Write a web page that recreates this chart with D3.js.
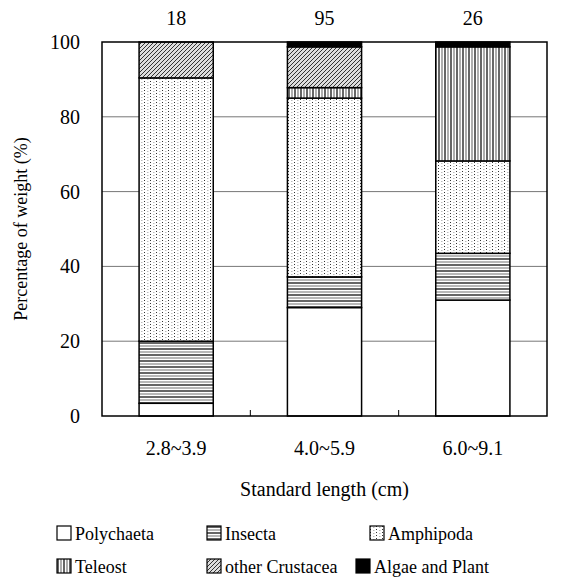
<!DOCTYPE html>
<html>
<head>
<meta charset="utf-8">
<script src="https://cdn.jsdelivr.net/npm/d3@7"></script>
<style>
  body { margin: 0; background: #fff; }
</style>
</head>
<body>
<div id="chart"></div>
<script>
// data
const groups = ["2.8~3.9", "4.0~5.9", "6.0~9.1"];
const sampleSize = [18, 95, 26];
const prey = ["Polychaeta", "Insecta", "Amphipoda", "Teleost", "other Crustacea", "Algae and Plant"];
const polychaeta = [3.4, 29.0, 31.0];
const insecta = [16.6, 8.2, 12.5];
const amphipoda = [70.4, 47.8, 24.7];
const teleost = [0, 2.8, 30.5];
const otherCrustacea = [9.6, 10.9, 0];
const algae = [0, 1.3, 1.3];
const yTicks = [0, 20, 40, 60, 80, 100];

const series = [polychaeta, insecta, amphipoda, teleost, otherCrustacea, algae];
const table = groups.map((g, i) => {
  let row = {group: g};
  prey.forEach((p, j) => row[p] = series[j][i]);
  return row;
});

const width = 562, height = 578;
const margin = {top: 42, right: 15, bottom: 162, left: 102};
const iw = width - margin.left - margin.right;
const ih = height - margin.top - margin.bottom;
const fs = 20;
const ff = "'Liberation Serif', 'Times New Roman', Times, serif";

const svg = d3.select("#chart").append("svg")
  .attr("width", width)
  .attr("height", height)
  .attr("font-family", ff)
  .attr("font-size", fs);

// patterns
const defs = svg.append("defs");

let pInsecta = defs.append("pattern").attr("id", "p1")
  .attr("patternUnits", "userSpaceOnUse").attr("width", 8).attr("height", 6);
pInsecta.append("rect").attr("width", 8).attr("height", 6).attr("fill", "#fff");
pInsecta.append("line").attr("x1", 0).attr("x2", 8).attr("y1", 1).attr("y2", 1)
  .attr("stroke", "#000").attr("stroke-width", 1.2);
pInsecta.append("line").attr("x1", 0).attr("x2", 8).attr("y1", 4).attr("y2", 4)
  .attr("stroke", "#888").attr("stroke-width", 1.2);

let pAmph = defs.append("pattern").attr("id", "p2")
  .attr("patternUnits", "userSpaceOnUse").attr("width", 6).attr("height", 6);
pAmph.append("rect").attr("width", 6).attr("height", 6).attr("fill", "#fff");
pAmph.append("rect").attr("x", 0).attr("y", 0).attr("width", 1).attr("height", 1).attr("fill", "#333");
pAmph.append("rect").attr("x", 0).attr("y", 3).attr("width", 1).attr("height", 1).attr("fill", "#333");
pAmph.append("rect").attr("x", 3).attr("y", 1).attr("width", 1).attr("height", 1).attr("fill", "#bbb");
pAmph.append("rect").attr("x", 3).attr("y", 4).attr("width", 1).attr("height", 1).attr("fill", "#bbb");
pAmph.append("rect").attr("x", 4).attr("y", 1).attr("width", 1).attr("height", 1).attr("fill", "#ddd");
pAmph.append("rect").attr("x", 4).attr("y", 4).attr("width", 1).attr("height", 1).attr("fill", "#ddd");

let pTel = defs.append("pattern").attr("id", "p3")
  .attr("patternUnits", "userSpaceOnUse").attr("width", 6).attr("height", 8);
pTel.append("rect").attr("width", 6).attr("height", 8).attr("fill", "#fff");
pTel.append("line").attr("y1", 0).attr("y2", 8).attr("x1", 1).attr("x2", 1)
  .attr("stroke", "#000").attr("stroke-width", 1.2);
pTel.append("line").attr("y1", 0).attr("y2", 8).attr("x1", 4).attr("x2", 4)
  .attr("stroke", "#777").attr("stroke-width", 1.2);

let pCru = defs.append("pattern").attr("id", "p4")
  .attr("patternUnits", "userSpaceOnUse").attr("width", 4).attr("height", 4);
pCru.append("rect").attr("width", 4).attr("height", 4).attr("fill", "#ddd");
pCru.append("path").attr("d", "M-1,1 l2,-2 M0,4 l4,-4 M3,5 l2,-2")
  .attr("stroke", "#333").attr("stroke-width", 1);

const fills = ["#fff", "url(#p1)", "url(#p2)", "url(#p3)", "url(#p4)", "#000"];
const color = d3.scaleOrdinal().domain(prey).range(fills);

const g = svg.append("g").attr("transform", `translate(${margin.left},${margin.top})`);

const x = d3.scaleBand().domain(groups).range([0, iw]).paddingInner(0.5).paddingOuter(0.25);
const y = d3.scaleLinear().domain([0, 100]).range([ih, 0]);

// gridlines
g.append("g")
  .selectAll("line")
  .data(yTicks.filter(t => t > 0 && t < 100))
  .enter()
    .append("line")
    .attr("x1", 0).attr("x2", iw)
    .attr("y1", d => y(d)).attr("y2", d => y(d))
    .attr("stroke", "#777")
    .attr("stroke-width", 1);

const stack = d3.stack().keys(prey)(table);

g.append("g")
  .selectAll("g")
  .data(stack)
  .enter()
    .append("g")
    .attr("fill", d => color(d.key))
    .selectAll("rect")
    .data(d => d.filter(s => s[1] - s[0] > 0))
    .enter()
      .append("rect")
      .attr("x", d => x(d.data.group))
      .attr("y", d => y(d[1]))
      .attr("width", x.bandwidth())
      .attr("height", d => y(d[0]) - y(d[1]))
      .attr("stroke", "#000")
      .attr("stroke-width", 1.5);

// frame
g.append("rect")
  .attr("width", iw).attr("height", ih)
  .attr("fill", "none")
  .attr("stroke", "#000")
  .attr("stroke-width", 1.5);

// y axis
const yAxis = g.append("g")
  .call(d3.axisLeft(y).tickValues(yTicks).tickSize(0).tickPadding(22))
  .attr("font-family", ff).attr("font-size", fs);
yAxis.select(".domain").remove();

// x axis: labels, ticks at band edges
const xAxis = g.append("g")
  .attr("transform", `translate(0,${ih})`)
  .call(d3.axisBottom(x).tickSize(0).tickPadding(25))
  .attr("font-family", ff).attr("font-size", fs);
xAxis.select(".domain").remove();

g.append("g")
  .selectAll("line")
  .data(groups.slice(1))
  .enter()
    .append("line")
    .attr("x1", d => x(d) - (x.step() - x.bandwidth()) / 2)
    .attr("x2", d => x(d) - (x.step() - x.bandwidth()) / 2)
    .attr("y1", ih).attr("y2", ih - 6)
    .attr("stroke", "#000");

// sample sizes on top
g.append("g")
  .selectAll("text")
  .data(groups)
  .enter()
    .append("text")
    .attr("x", d => x(d) + x.bandwidth() / 2)
    .attr("y", -17)
    .attr("text-anchor", "middle")
    .text((d, i) => sampleSize[i]);

// axis titles
svg.append("text")
  .attr("transform", `translate(27,${margin.top + ih / 2}) rotate(-90)`)
  .attr("text-anchor", "middle")
  .attr("font-size", 18)
  .text("Percentage of weight (%)");

svg.append("text")
  .attr("x", margin.left + iw / 2)
  .attr("y", 496)
  .attr("text-anchor", "middle")
  .text("Standard length (cm)");

// legend
const legPos = [[57, 526], [207, 526], [370, 526], [57, 559], [207, 559], [356, 559]];
const legend = svg.append("g")
  .attr("font-size", 18)
  .selectAll("g")
  .data(prey)
  .enter()
    .append("g")
    .attr("transform", (d, i) => `translate(${legPos[i][0]},${legPos[i][1]})`);

legend.append("rect")
  .attr("width", 14).attr("height", 14)
  .attr("fill", d => color(d))
  .attr("stroke", "#000")
  .attr("stroke-width", 1.2);

legend.append("text")
  .attr("x", 18).attr("y", 14)
  .text(d => d);
</script>
</body>
</html>
